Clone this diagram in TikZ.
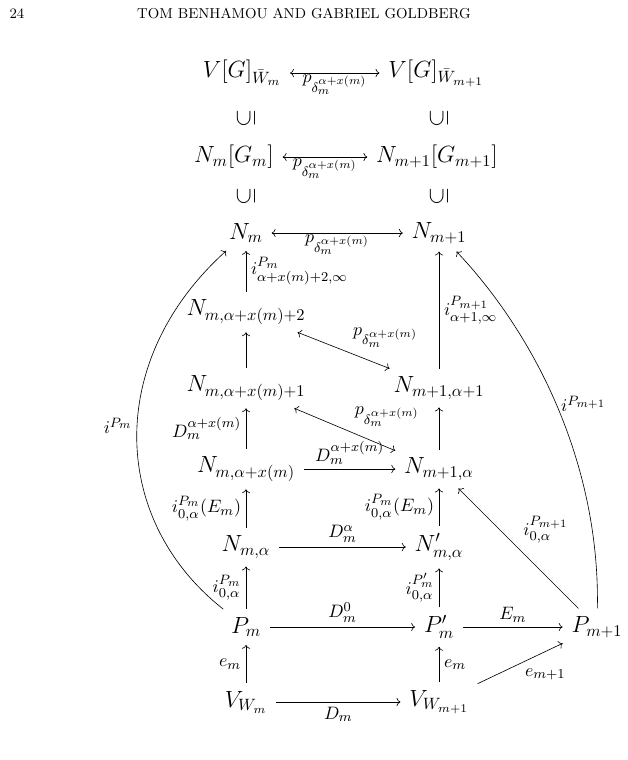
\RequirePackage{fix-cm}
\documentclass[tikz,border=0pt]{standalone}
\usepackage{amsmath}
\usepackage{amssymb}
\usepackage{graphicx}
\usetikzlibrary{arrows.meta,positioning}

\DeclareMathSizes{15}{15}{10.5}{7.5}
\DeclareMathSizes{11.5}{11.5}{8.7}{7.2}
\tikzset{
  obj/.style={inner xsep=5.5pt, inner ysep=5pt, font=\fontsize{15}{18}\selectfont},
  lbl/.style={inner sep=3pt, font=\fontsize{11.5}{14}\selectfont},
  head/.style={font=\fontsize{9.2}{11}\selectfont},
  map/.style={->},
  iso/.style={<->},
}
\newcommand{\incl}{\rotatebox[origin=c]{90}{$\subseteq$}}

\begin{document}
\begin{tikzpicture}[x=0.64pt,y=-0.64pt]
  \useasboundingbox (0,0) rectangle (627,760);

  \node[head, anchor=west] (pageno) at (4,14) {24};
  \node[head] (runhead) at (304,14) {TOM BENHAMOU AND GABRIEL GOLDBERG};

  \node[obj] (VGm)  at (242,73)  {$V[G]_{\bar W_m}$};
  \node[obj] (VGm1) at (436,73)  {$V[G]_{\bar W_{m+1}}$};
  \node[obj] (subA) at (246,118) {\incl};
  \node[obj] (subB) at (439,118) {\incl};
  \node[obj] (NGm)  at (234,157) {$N_m[G_m]$};
  \node[obj] (NGm1) at (437,157) {$N_{m+1}[G_{m+1}]$};
  \node[obj] (subC) at (246,196) {\incl};
  \node[obj] (subD) at (439,196) {\incl};
  \node[obj] (Nm)   at (246,233) {$N_m$};
  \node[obj] (Nm1)  at (439,233) {$N_{m+1}$};
  \node[obj] (Nmx2) at (246,312) {$N_{m,\alpha+x(m)+2}$};
  \node[obj] (Nmx1) at (246,388) {$N_{m,\alpha+x(m)+1}$};
  \node[obj] (Nma1) at (439,388) {$N_{m+1,\alpha+1}$};
  \node[obj] (Nmx)  at (246,469) {$N_{m,\alpha+x(m)}$};
  \node[obj] (Nm1a) at (439,469) {$N_{m+1,\alpha}$};
  \node[obj] (Nma)  at (246,547) {$N_{m,\alpha}$};
  \node[obj] (Nmap) at (439,547) {$N'_{m,\alpha}$};
  \node[obj] (Pm)   at (246,627) {$P_m$};
  \node[obj] (Pmp)  at (439,627) {$P'_m$};
  \node[obj] (Pm1)  at (597,627) {$P_{m+1}$};
  \node[obj] (VWm)  at (246,702) {$V_{W_m}$};
  \node[obj] (VWm1) at (439,702) {$V_{W_{m+1}}$};

  % horizontal maps
  \draw[iso] (VGm) -- node[lbl, below, inner sep=1pt] {$p_{\delta_m^{\alpha+x(m)}}$} (VGm1);
  \draw[iso] (NGm) -- node[lbl, below, inner sep=1pt] {$p_{\delta_m^{\alpha+x(m)}}$} (NGm1);
  \draw[iso] (Nm) -- node[lbl, below, inner sep=1pt] {$p_{\delta_m^{\alpha+x(m)}}$} (Nm1);
  \draw[map] (Nmx) -- node[lbl, above] {$D_m^{\alpha+x(m)}$} (Nm1a);
  \draw[map] (Nma) -- node[lbl, above] {$D_m^{\alpha}$} (Nmap);
  \draw[map] (Pm) -- node[lbl, above] {$D_m^{0}$} (Pmp);
  \draw[map] (Pmp) -- node[lbl, above] {$E_m$} (Pm1);
  \draw[map] (VWm) -- node[lbl, below] {$D_m$} (VWm1);

  % left column
  \draw[map] (VWm) -- node[lbl, left] {$e_m$} (Pm);
  \draw[map] (Pm) -- node[lbl, left] {$i^{P_m}_{0,\alpha}$} (Nma);
  \draw[map] (Nma) -- node[lbl, left] {$i^{P_m}_{0,\alpha}(E_m)$} (Nmx);
  \draw[map] (Nmx) -- node[lbl, left] {$D_m^{\alpha+x(m)}$} (Nmx1);
  \draw[map] (Nmx1) -- (Nmx2);
  \draw[map] (Nmx2) -- node[lbl, right] {$i^{P_m}_{\alpha+x(m)+2,\infty}$} (Nm);

  % right column
  \draw[map] (VWm1) -- node[lbl, right] {$e_m$} (Pmp);
  \draw[map] (Pmp) -- node[lbl, left] {$i^{P'_m}_{0,\alpha}$} (Nmap);
  \draw[map] (Nmap) -- node[lbl, left] {$i^{P_m}_{0,\alpha}(E_m)$} (Nm1a);
  \draw[map] (Nm1a) -- (Nma1);
  \draw[map] (Nma1) -- node[lbl, right] {$i^{P_{m+1}}_{\alpha+1,\infty}$} (Nm1);

  % diagonals and curves
  \draw[iso] (Nmx2) -- node[lbl, above right, pos=0.55] {$p_{\delta_m^{\alpha+x(m)}}$} (Nma1);
  \draw[iso] (Nmx1) -- node[lbl, above right, pos=0.55] {$p_{\delta_m^{\alpha+x(m)}}$} (Nm1a);
  \draw[map] (Pm1) -- node[lbl, above right] {$i^{P_{m+1}}_{0,\alpha}$} (Nm1a);
  \draw[map] (VWm1) -- node[lbl, below right] {$e_{m+1}$} (Pm1);
  \draw[map] (Pm) .. controls (110,520) and (105,360) .. node[lbl, left, pos=0.53] {$i^{P_m}$} (Nm);
  \draw[map] (Pm1) .. controls (600,470) and (540,340) .. node[lbl, right, pos=0.52] {$i^{P_{m+1}}$} (Nm1);
\end{tikzpicture}
\end{document}
